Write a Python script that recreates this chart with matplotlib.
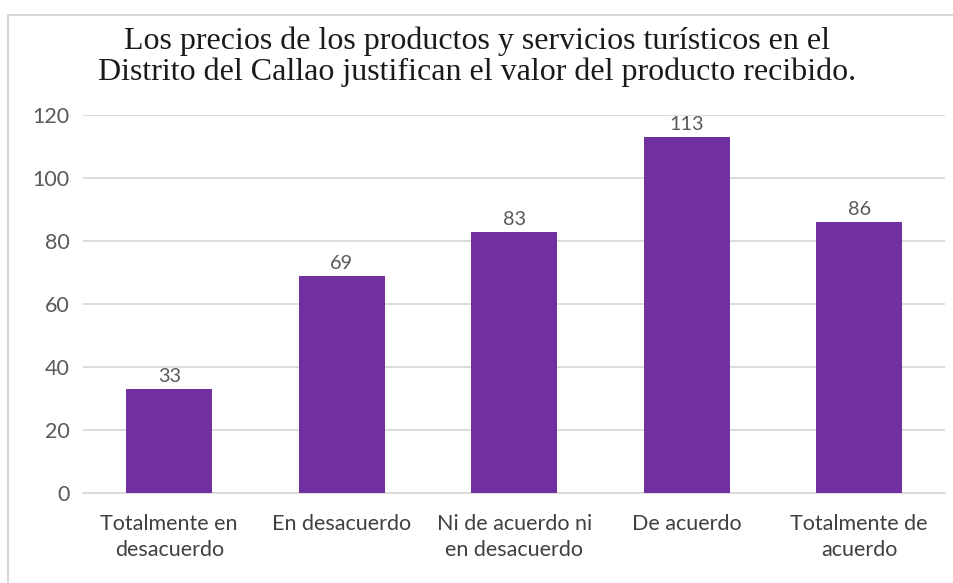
import matplotlib
matplotlib.use('Agg')
import matplotlib.pyplot as plt
from matplotlib.lines import Line2D

# Survey answers and counts
categories = ['Totalmente en\ndesacuerdo',
              'En desacuerdo',
              'Ni de acuerdo ni\nen desacuerdo',
              'De acuerdo',
              'Totalmente de\nacuerdo']
counts = [33, 69, 83, 113, 86]
yticks = [0, 20, 40, 60, 80, 100, 120]

title = ('Los precios de los productos y servicios turísticos en el\n'
         'Distrito del Callao justifican el valor del producto recibido.')

barColor = '#7030A0'
textColor = '#595959'
gridColor = '#D9D9D9'
labelFont = 'Lato'

fig = plt.figure(figsize=(9.54, 5.83), dpi=100)
ax = fig.add_axes([0.087, 0.154, 0.904, 0.649])

x = list(range(len(categories)))
bars = ax.bar(x, counts, width=0.5, color=barColor, zorder=3)

# value labels on top of each bar
for rect, val in zip(bars, counts):
    ax.text(rect.get_x() + rect.get_width() / 2, val + 1.2, str(val),
            ha='center', va='bottom', fontsize=14.3, color=textColor,
            family=labelFont)

ax.set_xlim(-0.5, len(categories) - 0.5)
ax.set_ylim(0, 120)
ax.set_yticks(yticks)
ax.set_xticks(x)
ax.set_xticklabels(categories, fontsize=15.5, color='#404040', family=labelFont,
                   linespacing=1.35)
ax.tick_params(axis='x', length=0, pad=15)
ax.tick_params(axis='y', length=0, pad=9.5, labelsize=15.5, labelcolor=textColor)
for lbl in ax.get_yticklabels():
    lbl.set_family(labelFont)

ax.grid(axis='y', color=gridColor, linewidth=1.3, zorder=0)
for side in ['top', 'right', 'left']:
    ax.spines[side].set_visible(False)
ax.spines['bottom'].set_color(gridColor)
ax.spines['bottom'].set_linewidth(1.3)

fig.text(0.5, 0.955, title, ha='center', va='top', fontsize=23,
         family='Liberation Serif', color='#1a1a1a', linespacing=1.08)

# light frame round the chart area
fig.add_artist(Line2D([0.008, 1.0], [0.974, 0.974], color='#D0D0D0',
                      linewidth=1.2, transform=fig.transFigure))
fig.add_artist(Line2D([0.008, 0.008], [0.0, 0.974], color='#D0D0D0',
                      linewidth=1.2, transform=fig.transFigure))

fig.savefig('out.png', dpi=100)
